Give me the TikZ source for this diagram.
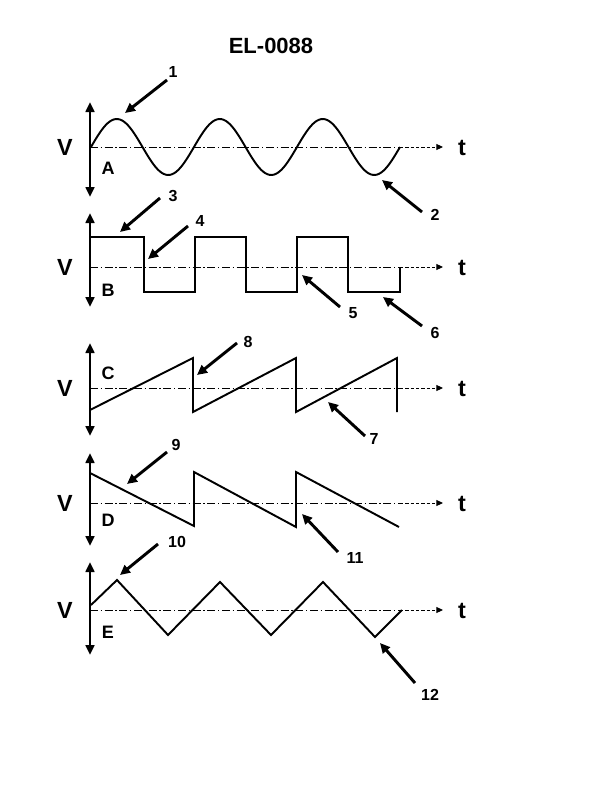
\documentclass[tikz,border=0pt]{standalone}
\usepackage{fontspec}
\setmainfont{Liberation Sans}
\usetikzlibrary{arrows.meta}

\begin{document}
\begin{tikzpicture}
  [x=0.75pt,y=-0.75pt,
   vaxis/.style={line width=2.1pt,{Triangle[length=7.5pt,width=6.5pt]}-{Triangle[length=7.5pt,width=6.5pt]}},
   taxis/.style={line width=0.7pt,dash pattern=on 6pt off 2pt on 1pt off 2pt},
   ttip/.style={line width=0.7pt,dash pattern=on 2.5pt off 1.5pt,-{Triangle[length=5pt,width=4.5pt]}},
   wave/.style={line width=1.45pt,line join=miter},
   callout/.style={line width=2.2pt,-{Triangle[length=7.5pt,width=7pt]}},
   num/.style={font=\bfseries\fontsize{12}{12}\selectfont,inner sep=0pt},
   tag/.style={font=\bfseries\fontsize{13.5}{13.5}\selectfont,inner sep=0pt},
   axlab/.style={font=\bfseries\fontsize{17.5}{17.5}\selectfont,inner sep=0pt}]
  \useasboundingbox (0,0) rectangle (594,792);
  \node[font=\bfseries\fontsize{16.5}{16.5}\selectfont] (title) at (271,46) {EL-0088};

  % axes of the five panels
  \foreach \p/\yt/\yb/\yo/\ty in {A/102/197/147/168,B/213/307/267/290,C/343/436/388/373,D/453/546/503/520,E/562/655/610/632} {
    \coordinate (top\p) at (90,\yt);
    \coordinate (bot\p) at (90,\yb);
    \coordinate (org\p) at (90,\yo);
    \coordinate (mid\p) at (400,\yo);
    \coordinate (end\p) at (443,\yo);
    \draw[taxis] (org\p) -- (mid\p);
    \draw[ttip] (mid\p) -- (end\p);
    \draw[vaxis] (bot\p) -- (top\p);
    \node[axlab] (v\p) at (65,\yo) {V};
    \node[axlab] (t\p) at (462,\yo+1) {t};
    \node[tag] (tag\p) at (108,\ty) {\p};
  }

  % waveforms
  \draw[wave] plot[domain=91:400,samples=150] (\x,{147-28*sin(3.4951*(\x-91))});
  \draw[wave] (90,237) -- (144,237) -- (144,292) -- (195,292) -- (195,237) -- (246,237)
    -- (246,292) -- (297,292) -- (297,237) -- (348,237) -- (348,292) -- (400,292) -- (400,267);
  \draw[wave] (90,410) -- (193,358) -- (193,412) -- (296,358) -- (296,412) -- (397,358) -- (397,412);
  \draw[wave] (90,473) -- (194,526) -- (194,472) -- (296,527) -- (296,472) -- (399,527);
  \draw[wave] (91,605) -- (117,580) -- (168,635) -- (220,582) -- (271,635) -- (323,582)
    -- (375,637) -- (402,610);

  % numbered callouts
  \foreach \n/\lx/\ly/\ax/\ay/\bx/\by in {1/173/72/167/80/125/113,2/435/215/422/212/382/180,
      3/173/196/160/198/120/232,4/200/221/188/226/148/259,5/353/313/340/307/302/275,
      6/435/333/422/326/383/297,7/374/439/365/436/328/402,8/248/342/237/343/197/375,
      9/176/445/167/452/127/484,10/177/542/158/544/120/575,11/355/558/338/552/302/514,
      12/430/695/415/683/380/643} {
    \node[num] (n\n) at (\lx,\ly) {\n};
    \coordinate (s\n) at (\ax,\ay);
    \coordinate (e\n) at (\bx,\by);
    \draw[callout] (s\n) -- (e\n);
  }
\end{tikzpicture}
\end{document}
